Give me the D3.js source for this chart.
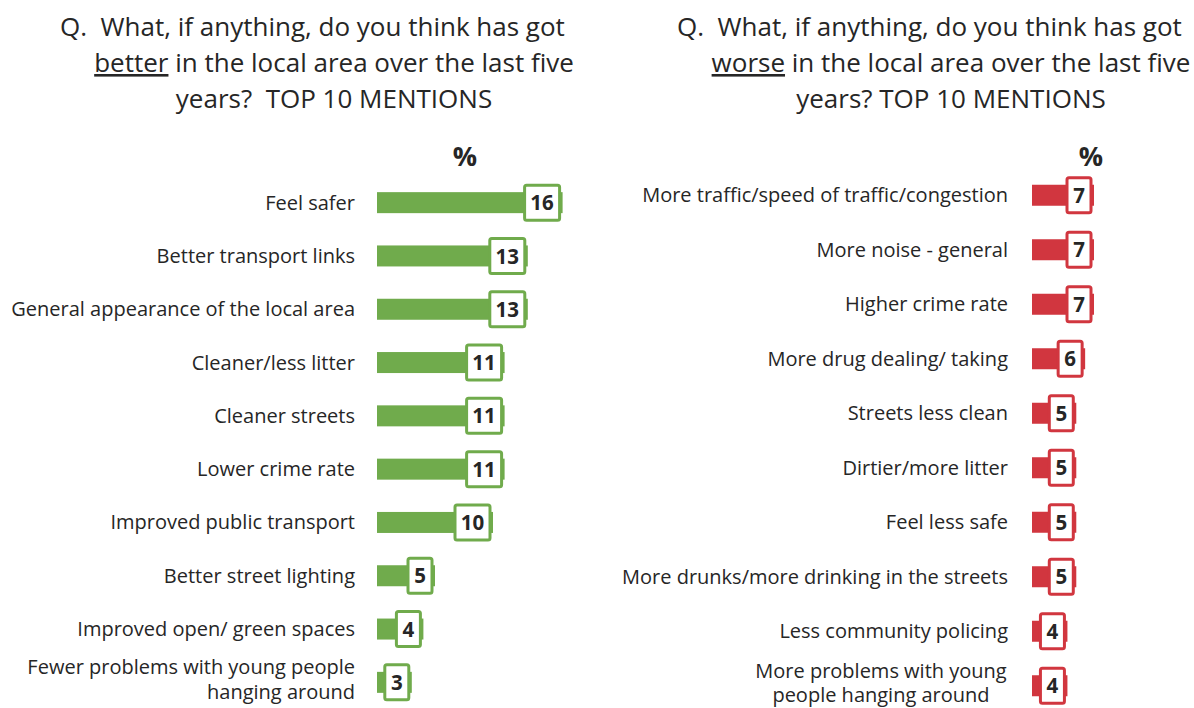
<!DOCTYPE html>
<html>
<head>
<meta charset="utf-8">
<script src="https://cdn.jsdelivr.net/npm/d3@7/dist/d3.min.js"></script>
<style>
  html, body { margin: 0; padding: 0; background: #fff; }
  svg { display: block; font-family: "Open Sans", "Noto Sans", sans-serif; }
  text { white-space: pre; }
</style>
</head>
<body>
<svg id="chart" width="1194" height="708"></svg>
<script>
// Top 10 mentions: what got better
const betterCategories = [
  ["Feel safer"],
  ["Better transport links"],
  ["General appearance of the local area"],
  ["Cleaner/less litter"],
  ["Cleaner streets"],
  ["Lower crime rate"],
  ["Improved public transport"],
  ["Better street lighting"],
  ["Improved open/ green spaces"],
  ["Fewer problems with young people", "hanging around"]
];
const betterValues = [16, 13, 13, 11, 11, 11, 10, 5, 4, 3];

// Top 10 mentions: what got worse
const worseCategories = [
  ["More traffic/speed of traffic/congestion"],
  ["More noise - general"],
  ["Higher crime rate"],
  ["More drug dealing/ taking"],
  ["Streets less clean"],
  ["Dirtier/more litter"],
  ["Feel less safe"],
  ["More drunks/more drinking in the streets"],
  ["Less community policing"],
  ["More problems with young", "people hanging around"]
];
const worseValues = [7, 7, 7, 6, 5, 5, 5, 5, 4, 4];

const GREEN = "#70ab4c";
const RED = "#d1363f";
const TEXT = "#262626";

const svg = d3.select("#chart");

function drawPanel(cfg) {
  const g = svg.append("g");

  // Question heading
  const t = g.append("g").attr("font-size", 26).attr("fill", TEXT);
  t.append("text").attr("x", cfg.qX).attr("y", 36).text("Q.  What, if anything, do you think has got");
  const l2 = t.append("text").attr("x", cfg.titleCenter).attr("y", 72).attr("text-anchor", "middle");
  l2.append("tspan").attr("text-decoration", "underline").text(cfg.keyword);
  l2.append("tspan").text(" in the local area over the last five");
  t.append("text").attr("x", cfg.titleCenter).attr("y", 108).attr("text-anchor", "middle")
    .text(cfg.line3);

  // Percent header
  g.append("text").attr("x", cfg.pctX).attr("y", 166).attr("text-anchor", "middle")
    .attr("font-size", 27).attr("font-weight", 700).attr("fill", TEXT).text("%");

  const idx = d3.range(cfg.values.length);
  const y = d3.scaleBand().domain(idx).range(cfg.yRange).paddingInner(0);
  const x = d3.scaleLinear().domain([0, cfg.maxV]).range([cfg.x0, cfg.xMax]);
  const barH = 21, boxH = 35;
  const boxW = v => String(v).length > 1 ? 35 : 24;

  const rows = g.selectAll("g.row").data(idx).enter().append("g").attr("class", "row")
    .attr("transform", i => `translate(0,${y(i) + y.bandwidth() / 2})`);

  // Category labels (two-line labels are stacked around the row centre)
  rows.each(function (i) {
    const lines = cfg.categories[i];
    const sel = d3.select(this);
    const lh = 24.5;
    const multi = lines.length > 1;
    const off = multi ? -15 : 0;
    lines.forEach((ln, k) => {
      sel.append("text")
        .attr("x", multi && cfg.centerWrapped ? cfg.wrapCenter : cfg.labelX)
        .attr("y", off + k * lh)
        .attr("dy", "0.35em")
        .attr("text-anchor", multi && cfg.centerWrapped ? "middle" : "end")
        .attr("font-size", 20)
        .attr("fill", TEXT)
        .text(ln);
    });
  });

  // Bars
  rows.append("rect")
    .attr("x", x(0))
    .attr("y", -barH / 2)
    .attr("width", i => x(cfg.values[i]) - x(0))
    .attr("height", barH)
    .attr("fill", cfg.color);

  // Value boxes
  rows.append("rect")
    .attr("x", i => x(cfg.values[i]) - 3 - boxW(cfg.values[i]))
    .attr("y", -boxH / 2)
    .attr("width", i => boxW(cfg.values[i]))
    .attr("height", boxH)
    .attr("rx", 2)
    .attr("fill", "#fff")
    .attr("stroke", cfg.color)
    .attr("stroke-width", 3);

  rows.append("text")
    .attr("x", i => x(cfg.values[i]) - 3 - boxW(cfg.values[i]) / 2)
    .attr("y", 0)
    .attr("dy", "0.37em")
    .attr("text-anchor", "middle")
    .attr("font-size", 20.5)
    .attr("font-weight", 700)
    .attr("fill", TEXT)
    .text(i => cfg.values[i]);
}

drawPanel({
  categories: betterCategories, values: betterValues, color: GREEN,
  keyword: "better", line3: "years?  TOP 10 MENTIONS",
  qX: 60, titleCenter: 334, pctX: 465,
  yRange: [176, 709], x0: 377, maxV: 16, xMax: 562.6,
  labelX: 355, centerWrapped: false
});

drawPanel({
  categories: worseCategories, values: worseValues, color: RED,
  keyword: "worse", line3: "years? TOP 10 MENTIONS",
  qX: 677, titleCenter: 951, pctX: 1091,
  yRange: [168, 713], x0: 1032, maxV: 7, xMax: 1094,
  labelX: 1008, centerWrapped: true, wrapCenter: 881
});
</script>
</body>
</html>
